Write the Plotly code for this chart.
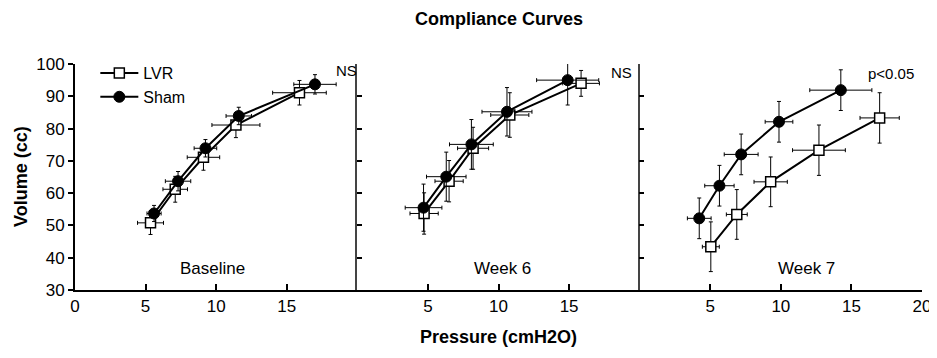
import plotly.graph_objects as go

# ---- data ----
panels = ["Baseline", "Week 6", "Week 7"]
sig_labels = ["NS", "NS", "p<0.05"]

lvr_p = [[5.35, 7.1, 9.1, 11.4, 15.9],
         [4.73, 6.5, 8.2, 10.8, 15.85],
         [5.04, 6.88, 9.28, 12.7, 17.0]]
lvr_v = [[50.8, 61.2, 71.1, 81.1, 91.1],
         [53.7, 63.7, 73.9, 84.2, 94.0],
         [43.4, 53.4, 63.5, 73.3, 83.3]]
lvr_p_err = [[0.92, 0.87, 1.15, 1.7, 1.9],
             [1.0, 1.0, 1.1, 1.35, 1.3],
             [0.6, 0.74, 1.18, 1.87, 1.39]]
lvr_v_err = [[3.6, 4.0, 4.0, 3.9, 3.8],
             [6.4, 6.4, 6.5, 6.9, 4.0],
             [7.7, 7.7, 7.7, 7.8, 7.8]]

sham_p = [[5.6, 7.3, 9.24, 11.6, 17.0],
          [4.69, 6.3, 8.08, 10.6, 14.9],
          [4.22, 5.65, 7.19, 9.87, 14.25]]
sham_v = [[53.7, 63.7, 73.9, 83.9, 93.7],
          [55.5, 65.1, 75.1, 85.2, 95.0],
          [52.2, 62.3, 72.0, 82.1, 91.9]]
sham_p_err = [[0.5, 0.9, 0.8, 0.9, 1.5],
              [1.3, 1.4, 1.55, 1.77, 2.2],
              [0.84, 1.04, 1.2, 0.98, 2.2]]
sham_v_err = [[2.5, 3.0, 2.7, 2.7, 3.0],
              [7.3, 7.6, 7.7, 7.5, 7.7],
              [6.3, 6.3, 6.3, 6.3, 6.3]]

x_tickvals = [[0, 5, 10, 15], [5, 10, 15], [5, 10, 15, 20]]
y_tickvals = [30, 40, 50, 60, 70, 80, 90, 100]

FONT = "Liberation Sans, Arial, sans-serif"

fig = go.Figure()

for i in range(3):
    xa = "x" if i == 0 else f"x{i+1}"
    ya = "y" if i == 0 else f"y{i+1}"
    fig.add_trace(go.Scatter(
        x=lvr_p[i], y=lvr_v[i], mode="lines+markers", name="LVR",
        xaxis=xa, yaxis=ya, showlegend=(i == 0), legendgroup="LVR",
        line=dict(color="black", width=2),
        marker=dict(symbol="square", size=10, color="white",
                    line=dict(color="black", width=1.5)),
        error_x=dict(type="data", array=lvr_p_err[i], color="black",
                     thickness=1, width=2),
        error_y=dict(type="data", array=lvr_v_err[i], color="black",
                     thickness=1, width=2),
        cliponaxis=False,
    ))
    fig.add_trace(go.Scatter(
        x=sham_p[i], y=sham_v[i], mode="lines+markers", name="Sham",
        xaxis=xa, yaxis=ya, showlegend=(i == 0), legendgroup="Sham",
        line=dict(color="black", width=2),
        marker=dict(symbol="circle", size=11, color="black",
                    line=dict(color="black", width=1)),
        error_x=dict(type="data", array=sham_p_err[i], color="black",
                     thickness=1, width=2),
        error_y=dict(type="data", array=sham_v_err[i], color="black",
                     thickness=1, width=2),
        cliponaxis=False,
    ))

domains = [[0, 1/3], [1/3, 2/3], [2/3, 1]]
layout_axes = {}
for i in range(3):
    xk = "xaxis" if i == 0 else f"xaxis{i+1}"
    yk = "yaxis" if i == 0 else f"yaxis{i+1}"
    ya = "y" if i == 0 else f"y{i+1}"
    xa = "x" if i == 0 else f"x{i+1}"
    layout_axes[xk] = dict(
        domain=domains[i], range=[0, 20], anchor=ya, automargin=False,
        tickmode="array", tickvals=x_tickvals[i],
        ticks="inside", ticklen=6, tickwidth=1.5, tickcolor="black",
        showline=True, linecolor="black", linewidth=2,
        showgrid=False, zeroline=False,
        tickfont=dict(family=FONT, size=17, color="black"),
    )
    if i == 0:
        layout_axes[yk] = dict(
            range=[30, 100], anchor=xa, tickmode="array", tickvals=y_tickvals,
            automargin=False,
            ticks="outside", ticklen=5, tickwidth=1.5, tickcolor="black",
            showline=True, linecolor="black", linewidth=2,
            showgrid=False, zeroline=False,
            tickfont=dict(family=FONT, size=17, color="black"),
        )
    else:
        layout_axes[yk] = dict(
            range=[30, 100], anchor=xa, matches="y", automargin=False,
            tickmode="array", tickvals=y_tickvals, showticklabels=False,
            ticks="inside", ticklen=5, tickwidth=1.5, tickcolor="black",
            showline=True, linecolor="#444", linewidth=1.5,
            showgrid=False, zeroline=False,
        )

PLOT_H = 226
annotations = []
panel_label_x = [9.75, 10.25, 11.8]
sig_x = [19.2, 18.7, 17.8]
sig_y = [98.0, 97.3, 97.0]
for i in range(3):
    xa = "x" if i == 0 else f"x{i+1}"
    ya = "y" if i == 0 else f"y{i+1}"
    annotations.append(dict(text=panels[i], x=panel_label_x[i], y=36.8,
                            xref=xa, yref=ya, showarrow=False,
                            font=dict(family=FONT, size=17, color="black")))
    annotations.append(dict(text=sig_labels[i], x=sig_x[i], y=sig_y[i],
                            xref=xa, yref=ya, showarrow=False,
                            font=dict(family=FONT, size=15, color="black")))

annotations.append(dict(text="<b>Compliance Curves</b>", x=0.5, xref="paper",
                        y=1 + (64 - 19) / PLOT_H, yref="paper",
                        yanchor="middle", showarrow=False,
                        font=dict(family=FONT, size=18, color="black")))
annotations.append(dict(text="<b>Pressure (cmH2O)</b>", x=0.5, xref="paper",
                        y=-(337 - 290) / PLOT_H, yref="paper",
                        yanchor="middle", showarrow=False,
                        font=dict(family=FONT, size=18, color="black")))
annotations.append(dict(text="<b>Volume (cc)</b>", x=-(75 - 21) / 847,
                        xref="paper", xanchor="center",
                        y=0.5, yref="paper", yanchor="middle",
                        textangle=-90, showarrow=False,
                        font=dict(family=FONT, size=18, color="black")))

# page body has an 8px margin: the figure starts at (8, 8)
fig.update_layout(
    width=929, height=350,
    margin=dict(l=67, r=15, t=56, b=68, autoexpand=False),
    paper_bgcolor="white", plot_bgcolor="white",
    showlegend=True,
    legend=dict(x=0.024, y=1.035, xanchor="left", yanchor="top",
                bgcolor="rgba(0,0,0,0)", tracegroupgap=0,
                font=dict(family=FONT, size=16, color="black"),
                itemwidth=38),
    annotations=annotations,
    **layout_axes,
)

fig.write_html("out.html")
